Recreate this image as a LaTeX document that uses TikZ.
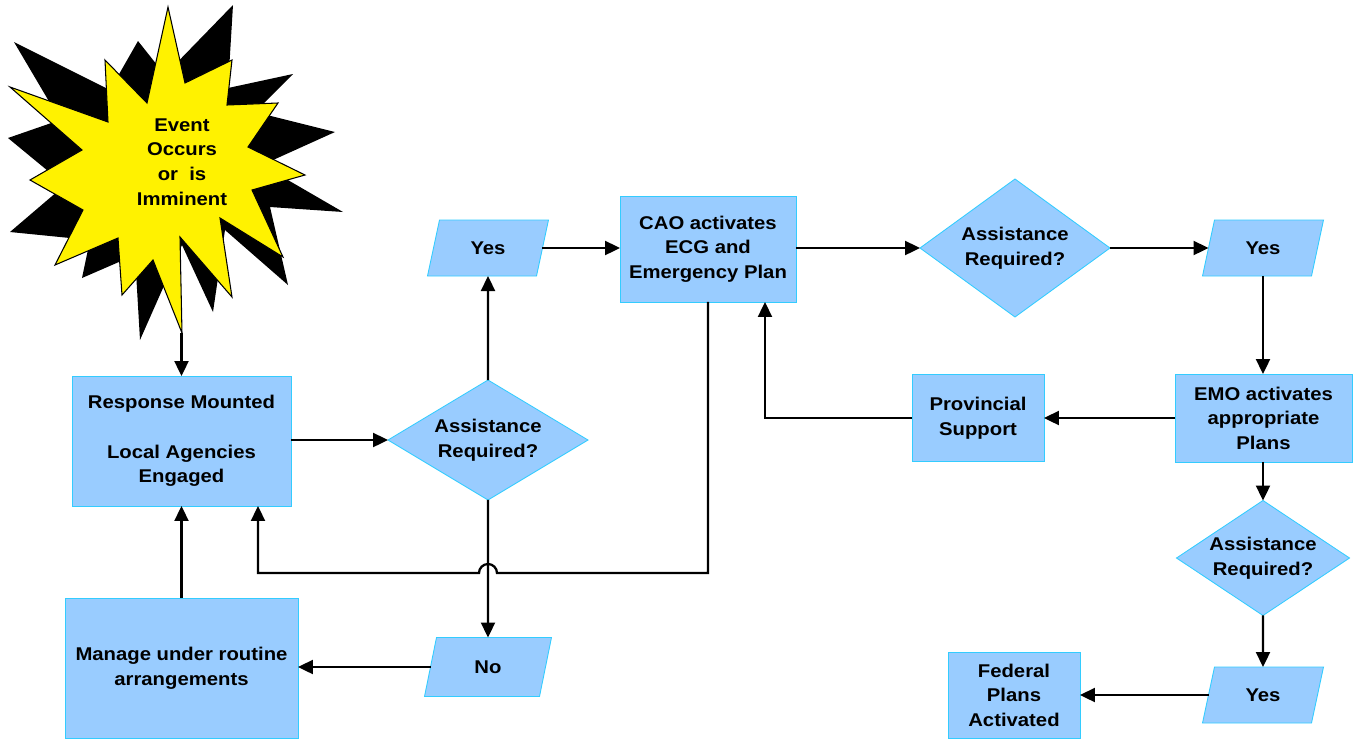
\documentclass[tikz,border=0pt]{standalone}
\usepackage{fontspec}
\setmainfont{Liberation Sans}[FakeStretch=1.1]
\usetikzlibrary{arrows.meta, shapes.geometric, calc}

\definecolor{boxblue}{HTML}{99CCFF}
\definecolor{boxline}{HTML}{33CCFF}

\begin{document}
\begin{tikzpicture}[x=0.02cm, y=-0.02cm,
  every node/.style={font=\fontsize{10.5}{14}\selectfont\bfseries, align=center, outer sep=0pt},
  procbox/.style={rectangle, draw=boxline, fill=boxblue, line width=0.5pt},
  asknode/.style={diamond, aspect=1.6, draw=boxline, fill=boxblue, line width=0.5pt, inner sep=0pt},
  answer/.style={trapezium, trapezium left angle=64, trapezium right angle=116, trapezium stretches body=true, draw=boxline, fill=boxblue, line width=0.5pt, minimum width=2.42cm, minimum height=1.12cm},
  flow/.style={line width=1.3pt, -{Triangle[length=0.3cm, width=0.28cm]}}]
  \useasboundingbox (0,0) rectangle (1357,738);

  \fill[black] (233,5) -- (228,88) -- (293,74) -- (255,112) -- (335,132) -- (262,165) -- (343,212) -- (270,207) -- (288,285) -- (225,230) -- (213,312) -- (182,245) -- (140,340) -- (135,255) -- (82,278) -- (90,240) -- (10,232) -- (65,185) -- (8,138) -- (60,120) -- (14,42) -- (110,90) -- (138,41) -- (165,75) -- cycle;
  \draw[fill=yellow, line width=0.6pt] (168,7) -- (185,83) -- (232,60) -- (227,105) -- (278,103) -- (248,147) -- (305,175) -- (252,190) -- (283,257) -- (220,218) -- (232,297) -- (180,237) -- (182,333) -- (153,260) -- (122,295) -- (118,238) -- (55,265) -- (83,210) -- (30,180) -- (82,150) -- (10,87) -- (108,122) -- (105,60) -- (147,103) -- cycle;
  \node (event) at (182,162) {Event\\Occurs\\or~ is\\Imminent};

  \node[procbox, minimum width=4.38cm, minimum height=2.6cm] (resp) at (181.5,441) {Response Mounted\\[14pt]Local Agencies\\Engaged};
  \node[asknode, aspect=1.65, minimum width=4cm, minimum height=2.4cm] (ask1) at (488,440) {Assistance\\Required?};
  \node[answer] (yes1) at (488,248) {Yes};
  \node[procbox, minimum width=3.52cm, minimum height=2.12cm] (cao) at (708,249) {CAO activates\\ECG and\\Emergency Plan};
  \node[asknode, aspect=1.38, minimum width=3.8cm, minimum height=2.76cm] (ask2) at (1015,248) {Assistance\\Required?};
  \node[answer] (yes2) at (1263,248) {Yes};
  \node[procbox, minimum width=3.54cm, minimum height=1.76cm] (emo) at (1263.5,418) {EMO activates\\appropriate\\Plans};
  \node[procbox, minimum width=2.64cm, minimum height=1.74cm] (prov) at (978,418) {Provincial\\Support};
  \node[asknode, aspect=1.5, minimum width=3.46cm, minimum height=2.3cm] (ask3) at (1263,558) {Assistance\\Required?};
  \node[answer] (yes3) at (1263,695) {Yes};
  \node[procbox, minimum width=2.64cm, minimum height=1.72cm] (fed) at (1014,695) {Federal\\Plans\\Activated};
  \node[procbox, minimum width=4.66cm, minimum height=2.8cm] (manage) at (181.5,668) {Manage under routine\\arrangements};
  \node[answer, minimum width=2.54cm, minimum height=1.18cm] (no) at (488,667) {No};

  \coordinate (tip) at (181.5,333);
  \coordinate (hop) at (488,573);
  \coordinate (back) at (258,573);

  \draw[flow] (tip) -- (resp.north);
  \draw[flow] (resp.east |- ask1.west) -- (ask1.west);
  \draw[flow] (ask1.north) -- (yes1.south);
  \draw[flow] (yes1.east) -- (cao.west |- yes1.east);
  \draw[flow] (cao.east |- ask2.west) -- (ask2.west);
  \draw[flow] (ask2.east) -- (yes2.west |- ask2.east);
  \draw[flow] (yes2.south) -- (emo.north -| yes2.south);
  \draw[flow] (emo.west) -- (prov.east);
  \draw[flow] (prov.west) -| ([xshift=1.14cm]cao.south);
  \draw[flow] (emo.south -| ask3.north) -- (ask3.north);
  \draw[flow] (ask3.south) -- (yes3.north);
  \draw[flow] (yes3.west) -- (fed.east |- yes3.west);
  \draw[flow] (cao.south) |- ([xshift=0.18cm]hop) arc[start angle=0, end angle=180, radius=0.18cm] -- (back) -- (back |- resp.south);
  \draw[flow] (ask1.south) -- (no.north);
  \draw[flow] (no.west) -- (manage.east |- no.west);
  \draw[flow] (manage.north) -- (resp.south);
\end{tikzpicture}
\end{document}
